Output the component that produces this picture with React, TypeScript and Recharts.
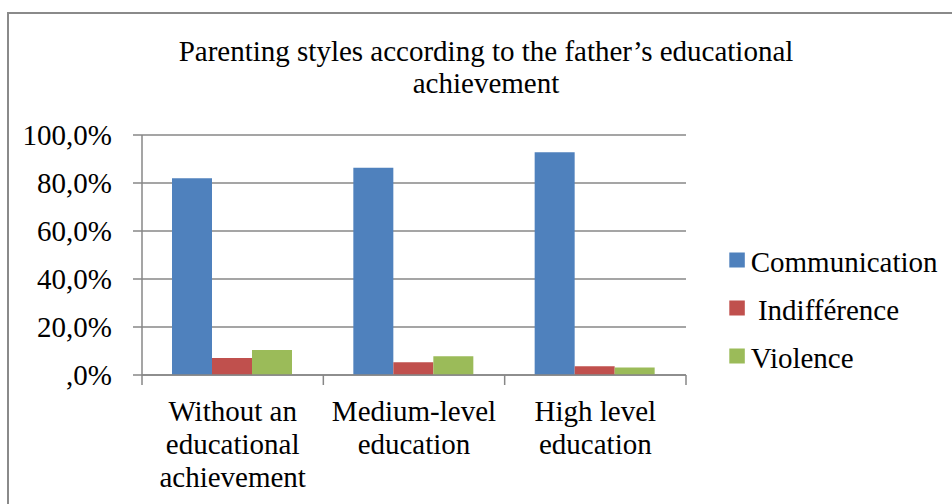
import React from "react";
import { BarChart, Bar, XAxis, YAxis, CartesianGrid, Legend, Customized } from "recharts";

const categories = ["Without an\neducational\nachievement", "Medium-level\neducation", "High level\neducation"];
const communication = [82.0, 86.4, 92.8];
const indifference = [7.1, 5.3, 3.6];
const violence = [10.4, 7.8, 3.1];
const seriesNames = ["Communication", " Indifférence", "Violence"];
const seriesColors = ["#4F81BD", "#C0504D", "#9BBB59"];
const yTicks = [0, 20, 40, 60, 80, 100];
const titleLines = ["Parenting styles according to the father\u2019s educational", "achievement"];

const data = categories.map((c, i) => ({
  category: c,
  communication: communication[i],
  indifference: indifference[i],
  violence: violence[i],
}));
const keys = ["communication", "indifference", "violence"];

const FONT = '"Liberation Serif", "Times New Roman", serif';
const FS = 29;
const GRID = "#878787";

const formatY = (v: number) => (v === 0 ? ",0%" : `${v},0%`);

const XTick = (props: any) => {
  const { x, y, payload, index } = props;
  const half = payload && typeof payload.offset === "number" && payload.offset > 0 ? payload.offset : 90.67;
  const lines = String(payload.value).split("\n");
  return (
    <g>
      <line x1={x - half} x2={x - half} y1={y - 10} y2={y} stroke={GRID} strokeWidth={1.5} />
      {index === categories.length - 1 && (
        <line x1={x + half} x2={x + half} y1={y - 10} y2={y} stroke={GRID} strokeWidth={1.5} />
      )}
      <text x={x} y={y} textAnchor="middle" fontFamily={FONT} fontSize={FS} fill="#000">
        {lines.map((l, i) => (
          <tspan key={i} x={x} y={y + 35.7 + i * 33.3}>
            {l}
          </tspan>
        ))}
      </text>
    </g>
  );
};

const Title = () => (
  <text textAnchor="middle" fontFamily={FONT} fontSize={FS} fill="#000">
    {titleLines.map((l, i) => (
      <tspan key={i} x={486} y={61 + i * 32}>
        {l}
      </tspan>
    ))}
  </text>
);

const LegendContent = (props: any) => {
  const payload = [...(props.payload || [])].sort(
    (a: any, b: any) => seriesNames.indexOf(a.value) - seriesNames.indexOf(b.value)
  );
  return (
    <svg width={230} height={140} style={{ display: "block" }}>
      {payload.map((p: any, i: number) => (
        <g key={i}>
          <rect x={7.3} y={12.5 + i * 48} width={15.5} height={15} fill={p.color} />
          <text
            x={28.7}
            y={31.7 + i * 48}
            fontFamily={FONT}
            fontSize={FS}
            fill="#000"
            style={{ whiteSpace: "pre" }}
          >
            {p.value}
          </text>
        </g>
      ))}
    </svg>
  );
};

export default function App() {
  return (
    <div
      style={{
        position: "fixed",
        left: 0,
        top: 0,
        width: 952,
        height: 504,
        overflow: "hidden",
        background: "#fff",
      }}
    >
      <div
        style={{
          position: "absolute",
          left: 7,
          top: 12,
          width: 1000,
          height: 1000,
          border: "2px solid #8a8a8a",
          boxSizing: "border-box",
        }}
      />
      <div style={{ position: "absolute", left: 0, top: 0 }}>
        <BarChart
          width={952}
          height={504}
          data={data}
          margin={{ top: 135, right: 266, bottom: 9, left: 22 }}
          barCategoryGap={30}
          barGap={0}
        >
          <CartesianGrid vertical={false} stroke={GRID} strokeWidth={1.5} />
          <XAxis
            dataKey="category"
            height={120}
            interval={0}
            tickLine={false}
            tickSize={10}
            tickMargin={0}
            axisLine={{ stroke: GRID, strokeWidth: 1.5 }}
            tick={<XTick />}
          />
          <YAxis
            width={120}
            domain={[0, 100]}
            ticks={yTicks}
            interval={0}
            tickFormatter={formatY}
            tickSize={9}
            tickMargin={21}
            axisLine={{ stroke: GRID, strokeWidth: 1.5 }}
            tickLine={{ stroke: GRID, strokeWidth: 1.5 }}
            tick={{ fill: "#000", fontFamily: FONT, fontSize: FS }}
          />
          {keys.map((k, i) => (
            <Bar key={k} dataKey={k} name={seriesNames[i]} fill={seriesColors[i]} isAnimationActive={false} />
          ))}
          <Legend
            layout="vertical"
            align="center"
            verticalAlign="middle"
            wrapperStyle={{ left: 722, top: 240, width: 230, height: 140 }}
            content={<LegendContent />}
          />
          <Customized component={<Title />} />
        </BarChart>
      </div>
    </div>
  );
}
